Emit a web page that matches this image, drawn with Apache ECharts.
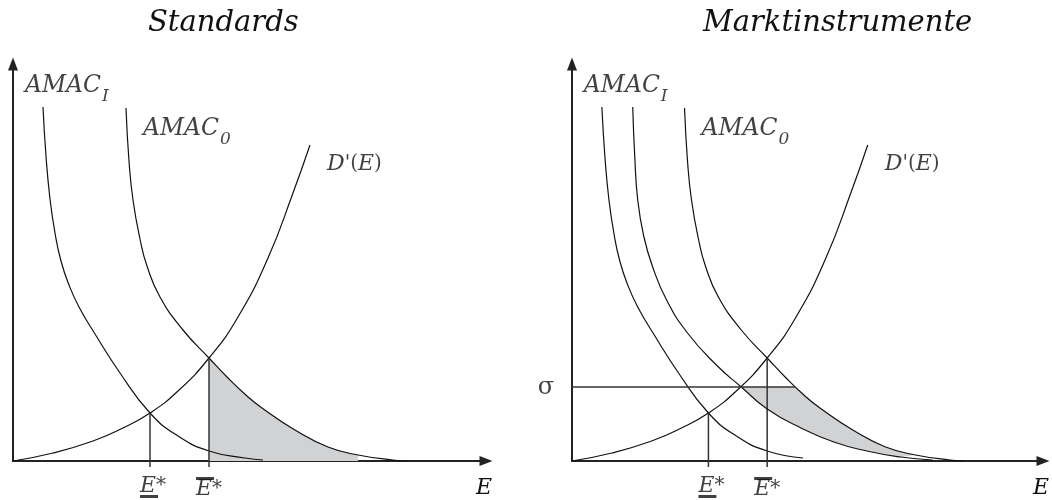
<!DOCTYPE html>
<html>
<head>
<meta charset="utf-8">
<script src="https://cdn.jsdelivr.net/npm/echarts@6.0.0/dist/echarts.min.js"></script>
<style>
  html, body { margin: 0; background: #fff; }
  #main { width: 1052px; height: 500px; }
</style>
</head>
<body>
<div id="main"></div>
<script>
// Kurven: [E, Kosten]
var amacI   = [[30,354],[33,305],[37,262],[42,228],[48,200],[56,176],[66,154],[82,127],[107,88],[137,48],[165,25],[196,10],[232,3],[250,1]];
var amacMid = [[61,354],[63,305],[66,261],[72,225],[81,194],[95,161],[116,128],[145,96],[170,74],[196,52],[230,33],[263,19],[296,10],[330,4],[362,1]];
var amacO   = [[113,353],[116,300],[120,261],[127,222],[134,195],[147,164],[170,131],[196,103],[215,83],[234,65],[249,53],[282,31],[315,14],[345,6],[380,1],[394,0]];
var dPrime  = [[0,0],[40,8],[80,20],[110,33],[137,48],[165,70],[196,103],[225,144],[255,203],[280,268],[297,316]];

var eStar    = [137, 48];   // E*  (AMAC_I = D')
var eStarBar = [196, 103];  // E-quer* (AMAC_0 = D')
var sigmaLine = [[-10, 74], [224, 74]];  // Abgabe sigma
var amacIRightEnd = 240;
var shadeEnd = 345;

var titles = ['Standards', 'Marktinstrumente'];

var serif = "'DejaVu Serif', serif";
var ink = '#111';
var shadeColor = '#d1d2d4';
var tickDrop = 6;

var rich = {
  a:   { fontFamily: serif, fontStyle: 'italic', fontSize: 23.5, color: ink },
  i:   { fontFamily: serif, fontStyle: 'italic', fontSize: 22, lineHeight: 18, color: ink },
  r:   { fontFamily: serif, fontSize: 20, lineHeight: 18, color: ink },
  sub: { fontFamily: serif, fontStyle: 'italic', fontSize: 17, padding: [22, 0, 0, 1], color: ink },
  bar: { width: 18, height: 3, lineHeight: 3, fontSize: 2, backgroundColor: ink }
};

var axisLine = {
  show: true,
  symbol: ['none', 'triangle'],
  symbolSize: [10, 13],
  lineStyle: { color: '#222', width: 2 }
};

function curve(data, p) {
  return {
    type: 'line', xAxisIndex: p, yAxisIndex: p, data: data,
    smooth: 0.5, showSymbol: false, silent: true, z: 3,
    lineStyle: { color: ink, width: 1.2 }
  };
}

function segment(data, p, color, width) {
  return {
    type: 'line', xAxisIndex: p, yAxisIndex: p, data: data,
    showSymbol: false, silent: true, clip: false, z: 3,
    lineStyle: { color: color, width: width }
  };
}

function shade(points, p) {
  return {
    type: 'custom', xAxisIndex: p, yAxisIndex: p, data: [[0, 0]], silent: true, z: 1,
    renderItem: function (params, api) {
      return {
        type: 'polygon',
        shape: { points: points.map(function (q) { return api.coord(q); }) },
        style: { fill: shadeColor }
      };
    }
  };
}

function tag(point, text, offset) {
  return {
    value: point,
    label: {
      show: true, formatter: text, rich: rich,
      position: [0, 0], offset: offset, align: 'left', verticalAlign: 'top'
    }
  };
}

function labels(items, p) {
  return {
    type: 'scatter', xAxisIndex: p, yAxisIndex: p, data: items,
    symbolSize: 0, clip: false, silent: true, z: 4,
    itemStyle: { color: 'transparent' }
  };
}

function panel(p, upperCurve) {
  var lo = [eStar[0], -tickDrop], hi = [eStarBar[0], -tickDrop];
  return [
    curve(upperCurve, p),
    curve(amacO, p),
    curve(dPrime, p),
    segment([eStar, lo], p, '#333', 1.5),
    segment([eStarBar, hi], p, '#333', 1.5),
    labels([
      tag(upperCurve[0], '{a|AMAC}{sub|I}', [-18, -41]),
      tag(amacO[0], '{a|AMAC}{sub|0}', [17, 1]),
      tag(dPrime[dPrime.length - 1], "{i|D}{r|'(}{i|E}{r|)}", [17, 10]),
      tag(lo, '{i|E}{r|*}\n{bar| }', [-10, 10]),
      tag(hi, '{bar| }\n{i|E}{r|*}', [-13, 10])
    ], p)
  ];
}

var leftShade = [[eStarBar[0], 0]]
  .concat(amacO.filter(function (q) { return q[0] >= eStarBar[0] && q[0] <= shadeEnd; }))
  .concat([[shadeEnd, 0]]);

var rightShade = amacMid.filter(function (q) { return q[1] <= sigmaLine[0][1] && q[0] <= shadeEnd; })
  .concat(amacO.filter(function (q) { return q[0] > sigmaLine[1][0] && q[0] <= shadeEnd; }).reverse())
  .concat([sigmaLine[1]]);

var series = [shade(leftShade, 0), shade(rightShade, 1)]
  .concat(panel(0, amacI))
  .concat(panel(1, amacI.filter(function (q) { return q[0] <= amacIRightEnd; })))
  .concat([
    curve(amacMid, 1),
    segment(sigmaLine, 1, '#333', 1.3),
    {
      type: 'scatter', xAxisIndex: 1, yAxisIndex: 1, data: [sigmaLine[0]],
      symbolSize: 0, clip: false, silent: true,
      label: {
        show: true, formatter: 'σ', position: 'left', distance: 8, offset: [0, 1],
        fontFamily: serif, fontSize: 24, color: ink
      }
    }
  ]);

function xAxis(i) {
  return {
    type: 'value', gridIndex: i, min: 0, max: 473,
    name: 'E', nameLocation: 'end', nameGap: 6,
    nameTextStyle: {
      fontFamily: serif, fontStyle: 'italic', fontSize: 22, color: ink,
      align: 'right', verticalAlign: 'top', padding: [16, 0, 0, 0]
    },
    axisLine: axisLine, axisTick: { show: false }, axisLabel: { show: false },
    splitLine: { show: false }
  };
}

function yAxis(i) {
  return {
    type: 'value', gridIndex: i, min: 0, max: 397,
    axisLine: axisLine, axisTick: { show: false }, axisLabel: { show: false },
    splitLine: { show: false }
  };
}

var titleStyle = { fontFamily: serif, fontStyle: 'italic', fontWeight: 'normal', fontSize: 29, color: '#111' };

var chart = echarts.init(document.getElementById('main'));
chart.setOption({
  animation: false,
  title: [
    { text: titles[0], left: 148, top: 9, padding: 0, textStyle: titleStyle },
    { text: titles[1], left: 703, top: 9, padding: 0, textStyle: titleStyle }
  ],
  grid: [
    { left: 13, top: 64, width: 473, height: 397 },
    { left: 572, top: 64, width: 473, height: 397 }
  ],
  xAxis: [xAxis(0), xAxis(1)],
  yAxis: [yAxis(0), yAxis(1)],
  series: series
});
</script>
</body>
</html>
